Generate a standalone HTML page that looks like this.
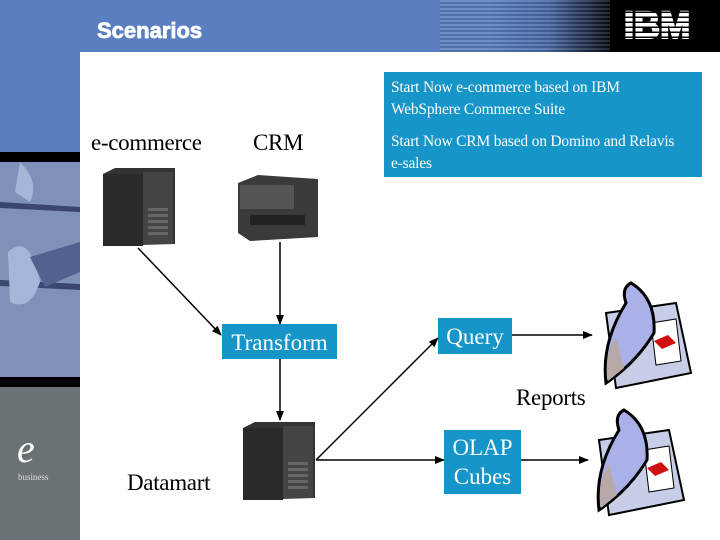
<!DOCTYPE html>
<html><head><meta charset="utf-8"><style>
*{margin:0;padding:0}
body{width:720px;height:540px;position:relative;overflow:hidden;background:#fff;font-family:"Liberation Serif",serif}
.abs{position:absolute}
.box{position:absolute;background:#1595c8;color:#fff;font-family:"Liberation Serif",serif}
.lbl{position:absolute;font-size:23px;color:#000;font-family:"Liberation Serif",serif;letter-spacing:-0.3px}
</style></head><body>
<div class="abs" style="left:0;top:0;width:720px;height:52px;background:linear-gradient(90deg,#5a7fc0 0%,#5a7fc0 68%,#4a6aa8 76%,#000 86%,#000 100%)"></div>
<div class="abs" style="left:440px;top:0;width:170px;height:52px;background:repeating-linear-gradient(180deg,rgba(255,255,255,0.12) 0 2px,rgba(0,0,0,0.12) 2px 4px)"></div>
<div class="abs" style="left:610px;top:0;width:110px;height:52px;background:#000"></div>
<div class="abs" style="left:97px;top:18px;color:#fff;font-family:'Liberation Sans',sans-serif;font-weight:bold;font-size:22px;-webkit-text-stroke:0.8px #fff">Scenarios</div>
<div class="abs" style="left:624px;top:5px;width:82px;height:40px;color:#fff;font-family:'Liberation Sans',sans-serif;font-weight:bold;font-size:38px;line-height:42px;-webkit-text-stroke:2px #fff;transform:scaleX(0.95);transform-origin:left">IBM</div>
<div class="abs" style="left:622px;top:8px;width:86px;height:38px;background:repeating-linear-gradient(180deg,transparent 0 3.5px,#000 3.5px 5px)"></div>
<!-- sidebar -->
<div class="abs" style="left:0;top:52px;width:80px;height:100px;background:#5a7fc0"></div>
<div class="abs" style="left:0;top:152px;width:80px;height:10px;background:#000"></div>
<div class="abs" style="left:0;top:162px;width:80px;height:215px;background:#8090b8"></div>
<svg class="abs" style="left:0;top:162px" width="80" height="215">
<path d="M0 40 L80 45 L80 50 L0 46Z" fill="#3a4570"/>
<path d="M0 118 L80 122 L80 128 L0 124Z" fill="#3a4570"/>
<path d="M8 90 Q30 70 40 120 Q30 150 10 140Z" fill="#a8b4d8"/>
<path d="M20 0 Q40 20 30 40 L15 30Z" fill="#a8b4d8"/>
<path d="M30 95 L80 80 L80 110 L45 125Z" fill="#556090"/>
</svg>
<div class="abs" style="left:0;top:377px;width:80px;height:10px;background:#000"></div>
<div class="abs" style="left:0;top:387px;width:80px;height:153px;background:#6b7275"></div>
<div class="abs" style="left:17px;top:425px;color:#fff;font-size:40px;font-style:italic;font-family:'Liberation Serif',serif">e</div>
<div class="abs" style="left:18px;top:472px;color:#ddd;font-size:9px">business</div>
<!-- info box -->
<div class="box" style="left:384px;top:72px;width:318px;height:105px;font-size:15.5px;line-height:22px;padding:5px 0 0 7px;box-sizing:border-box;letter-spacing:-0.2px"><div style="width:285px">Start Now e-commerce based on IBM WebSphere Commerce Suite</div><div style="height:10px"></div><div style="width:290px">Start Now CRM based on Domino and Relavis e-sales</div></div>
<div class="lbl" style="left:91px;top:130px">e-commerce</div>
<div class="lbl" style="left:253px;top:130px">CRM</div>
<div class="lbl" style="left:516px;top:385px">Reports</div>
<div class="lbl" style="left:127px;top:470px">Datamart</div>
<div class="box" style="left:222px;top:324px;width:115px;height:35px;font-size:23px;line-height:38px;text-align:center">Transform</div>
<div class="box" style="left:438px;top:318px;width:74px;height:36px;font-size:23px;line-height:38px;text-align:center">Query</div>
<div class="box" style="left:444px;top:430px;width:77px;height:64px;font-size:23px;line-height:29px;text-align:center;padding-top:3px;box-sizing:border-box">OLAP<br>Cubes</div>
<svg class="abs" style="left:0;top:0" width="720" height="540">
<defs><marker id="a" markerWidth="10" markerHeight="8" refX="9" refY="4" orient="auto" markerUnits="userSpaceOnUse"><path d="M0 0L10 4L0 8Z" fill="#000"/></marker>
<g id="srv"><path d="M0 6 L12 0 L72 0 L72 76 L0 78Z" fill="#333"/><rect x="0" y="6" width="40" height="72" fill="#2a2a2a"/><rect x="40" y="4" width="30" height="72" fill="#444"/><g fill="#666"><rect x="45" y="40" width="20" height="3"/><rect x="45" y="46" width="20" height="3"/><rect x="45" y="52" width="20" height="3"/><rect x="45" y="58" width="20" height="3"/><rect x="45" y="64" width="20" height="3"/></g></g>
<g id="rep"><path d="M10 30 L80 20 L95 90 L20 105 Z" fill="#c8cde8" stroke="#000" stroke-width="2"/><path d="M55 40 L80 36 L85 78 L60 82Z" fill="#fff" stroke="#000"/><path d="M58 58 L72 52 L80 60 L66 66Z" fill="#d01010"/><path d="M10 100 Q5 60 30 20 Q25 5 35 0 Q60 15 58 50 Q40 80 10 100Z" fill="#aab0e8" stroke="#000" stroke-width="3"/><path d="M12 98 Q8 70 20 55 L28 85Z" fill="#b8a8a8"/></g></defs>
<use href="#srv" x="103" y="168"/>
<g transform="translate(238,175)"><path d="M0 8 L20 0 L80 4 L80 62 L12 66 L0 58Z" fill="#3a3a3a"/><rect x="2" y="10" width="54" height="24" fill="#555"/><rect x="12" y="40" width="55" height="10" fill="#222"/></g>
<use href="#srv" x="243" y="422"/>
<use href="#rep" x="596" y="283"/>
<use href="#rep" x="589" y="410"/>
<g stroke="#000" stroke-width="1.5" fill="none" marker-end="url(#a)">
<line x1="138" y1="248" x2="221" y2="335"/>
<line x1="280" y1="242" x2="280" y2="324"/>
<line x1="280" y1="359" x2="280" y2="420"/>
<line x1="316" y1="460" x2="438" y2="338"/>
<line x1="316" y1="460" x2="444" y2="460"/>
<line x1="512" y1="335" x2="592" y2="335"/>
<line x1="521" y1="460" x2="588" y2="460"/>
</g>
</svg>
</body></html>
